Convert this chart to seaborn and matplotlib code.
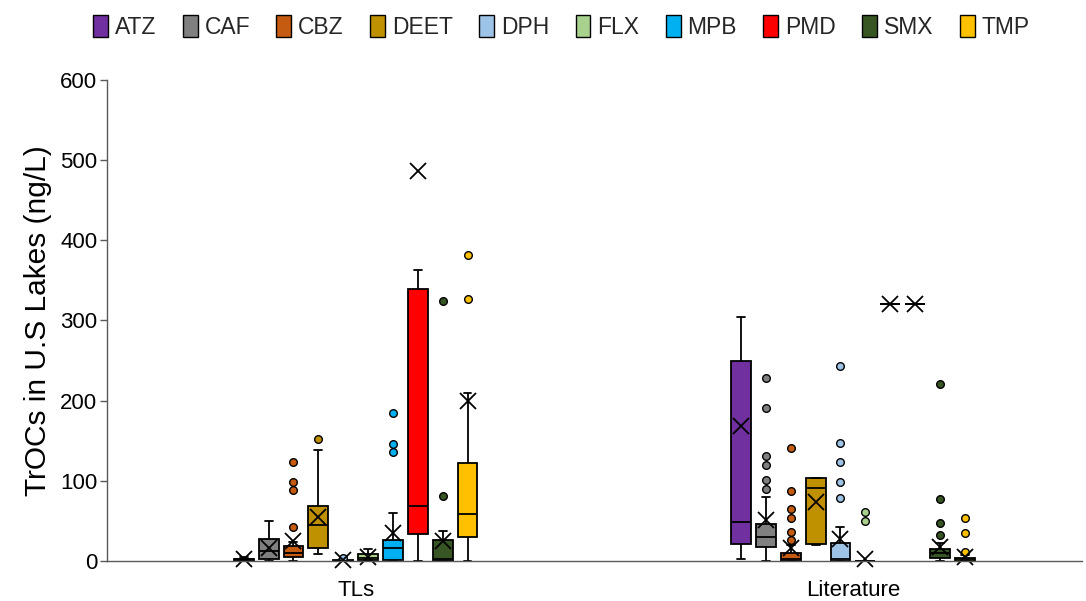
import numpy as np
import pandas as pd
import matplotlib
matplotlib.use('Agg')
import matplotlib.pyplot as plt
import seaborn as sns
from matplotlib.patches import Patch

# Categories
sources = ['TLs', 'Literature']
compounds = ['ATZ', 'CAF', 'CBZ', 'DEET', 'DPH', 'FLX', 'MPB', 'PMD', 'SMX', 'TMP']
colors = ['#7030A0', '#808080', '#C55A11', '#BF9000', '#9DC3E6',
          '#A9D18E', '#00B0F0', '#FF0000', '#375623', '#FFC000']

# TLs concentrations (ng/L), estimated from the chart
atz_tls = [0, 0, 0, 1, 1, 2, 2, 3, 3, 4, 5]
caf_tls = [0, 1, 3, 6, 12, 16, 28, 30, 50]
cbz_tls = [0, 2, 3, 4, 5, 5, 6, 7, 8, 9, 10, 12, 14, 15, 17, 19, 24, 42, 88, 98, 123]
deet_tls = [9, 10, 12, 16, 25, 35, 45, 50, 60, 69, 90, 139, 152]
dph_tls = [0, 0, 0, 0, 0, 0, 0, 1, 1, 2, 4]
flx_tls = [0, 0, 1, 2, 4, 6, 9, 12, 15]
mpb_tls = [0, 0, 0, 0, 1, 1, 3, 5, 8, 12, 16, 18, 20, 22, 24, 26, 40, 60, 136, 146, 185]
pmd_tls = [0, 15, 25, 34, 45, 60, 69, 150, 300, 339, 350, 363, 4580]
smx_tls = [0, 0, 0, 0, 0, 0, 0, 1, 1, 2, 2, 2, 3, 5, 8, 12, 16, 20, 26,
           28, 31, 34, 37, 81, 324]
tmp_tls = [0, 10, 20, 25, 30, 40, 48, 55, 59, 75, 90, 105, 122, 210, 327, 382, 1802]

# Literature concentrations (ng/L), estimated from the chart
atz_lit = [2, 15, 21, 35, 48, 200, 250, 304, 640]
caf_lit = [0, 4, 7, 10, 12, 14, 16, 18, 20, 22, 24, 26, 28, 29, 30,
           32, 35, 38, 40, 42, 44, 46, 80, 90, 101, 120, 131, 191, 228]
cbz_lit = [0] * 9 + [1, 1, 1, 2, 2, 2, 3, 3, 4, 5, 6, 7, 8, 9, 9, 10, 14, 20,
                     26, 36, 54, 65, 87, 141]
deet_lit = [20, 21, 21, 91, 91, 103, 103, 104, 104]
dph_lit = [0] * 9 + [0, 1, 1, 1, 2, 2, 2, 3, 5, 8, 10, 13, 15, 18, 20, 22, 28, 35, 42,
                     79, 99, 123, 147, 243]
flx_lit = [0] * 35 + [50, 61]
mpb_lit = [320]
pmd_lit = [320]
smx_lit = [0, 0, 1, 1, 2, 2, 3, 3, 4, 4, 4, 5, 6, 6, 7, 7, 8, 8, 9, 9, 10,
           11, 11, 12, 12, 13, 13, 14, 14, 15, 15, 16, 17, 18, 19, 20, 22,
           33, 47, 77, 221]
tmp_lit = [0] * 11 + [0, 0, 0, 1, 1, 1, 1, 2, 2, 2, 2, 2, 3, 3, 3, 3, 3, 4, 4, 4,
                      4, 4, 5, 5, 6, 7, 8, 11, 35, 54]

tls_data = [atz_tls, caf_tls, cbz_tls, deet_tls, dph_tls,
            flx_tls, mpb_tls, pmd_tls, smx_tls, tmp_tls]
lit_data = [atz_lit, caf_lit, cbz_lit, deet_lit, dph_lit,
            flx_lit, mpb_lit, pmd_lit, smx_lit, tmp_lit]

# Long-form table for seaborn
rows = []
for source, block in zip(sources, [tls_data, lit_data]):
    for compound, values in zip(compounds, block):
        for v in values:
            rows.append({'Source': source, 'Compound': compound, 'Value': v})
df = pd.DataFrame(rows)

sns.set_theme(style='white')
plt.rcParams['font.family'] = ['Liberation Sans', 'DejaVu Sans']

fig, ax = plt.subplots(figsize=(10.86, 6.01), dpi=100)
fig.subplots_adjust(left=0.0985, right=0.996, bottom=0.0666, top=0.867)

sns.boxplot(data=df, x='Source', y='Value', hue='Compound',
            order=sources, hue_order=compounds, palette=colors, saturation=1,
            width=0.5, gap=0.2, linecolor='black', linewidth=1.3,
            whis=1.5, showmeans=True, capwidths=0.016,
            meanprops=dict(marker='x', markeredgecolor='black',
                           markersize=11, markeredgewidth=1.3),
            flierprops=dict(marker='o', markersize=5.5, markeredgecolor='black',
                            markeredgewidth=1.0),
            legend=False, ax=ax)

# Colour the outlier dots like their boxes, let means sit over the axis line
centers = []
for p in ax.patches:
    verts = p.get_path().vertices
    centers.append((verts[:, 0].mean(), p.get_facecolor()))
    p.set_clip_on(False)
for line in ax.lines:
    if line.get_marker() == 'o':
        xs = np.asarray(line.get_xdata(), dtype=float)
        if len(xs):
            best = min(centers, key=lambda c: abs(c[0] - xs[0]))
            line.set_markerfacecolor(best[1])
    else:
        line.set_clip_on(False)

ax.set_ylim(0, 600)
ax.set_xlim(-0.5, 1.46)
ax.set_yticks(range(0, 601, 100))
ax.set_xlabel('')
ax.set_ylabel('TrOCs in U.S Lakes (ng/L)', fontsize=21.5, color='black', labelpad=6)

for side in ['top', 'right']:
    ax.spines[side].set_visible(False)
for side in ['left', 'bottom']:
    ax.spines[side].set_color('#595959')
    ax.spines[side].set_linewidth(1.0)

ax.tick_params(axis='y', direction='out', length=5, width=1.0, color='#595959',
               labelsize=16, labelcolor='black', pad=2, left=True)
ax.tick_params(axis='x', length=0, labelsize=16, labelcolor='black', pad=14)

handles = [Patch(facecolor=c, edgecolor='black', linewidth=1.0, label=n)
           for n, c in zip(compounds, colors)]
fig.legend(handles=handles, loc='center', bbox_to_anchor=(0.517, 0.955),
           ncol=10, frameon=False, fontsize=16.5, handlelength=0.65,
           handleheight=1.1, handletextpad=0.3, columnspacing=1.15)

fig.savefig('out.png', dpi=100)
